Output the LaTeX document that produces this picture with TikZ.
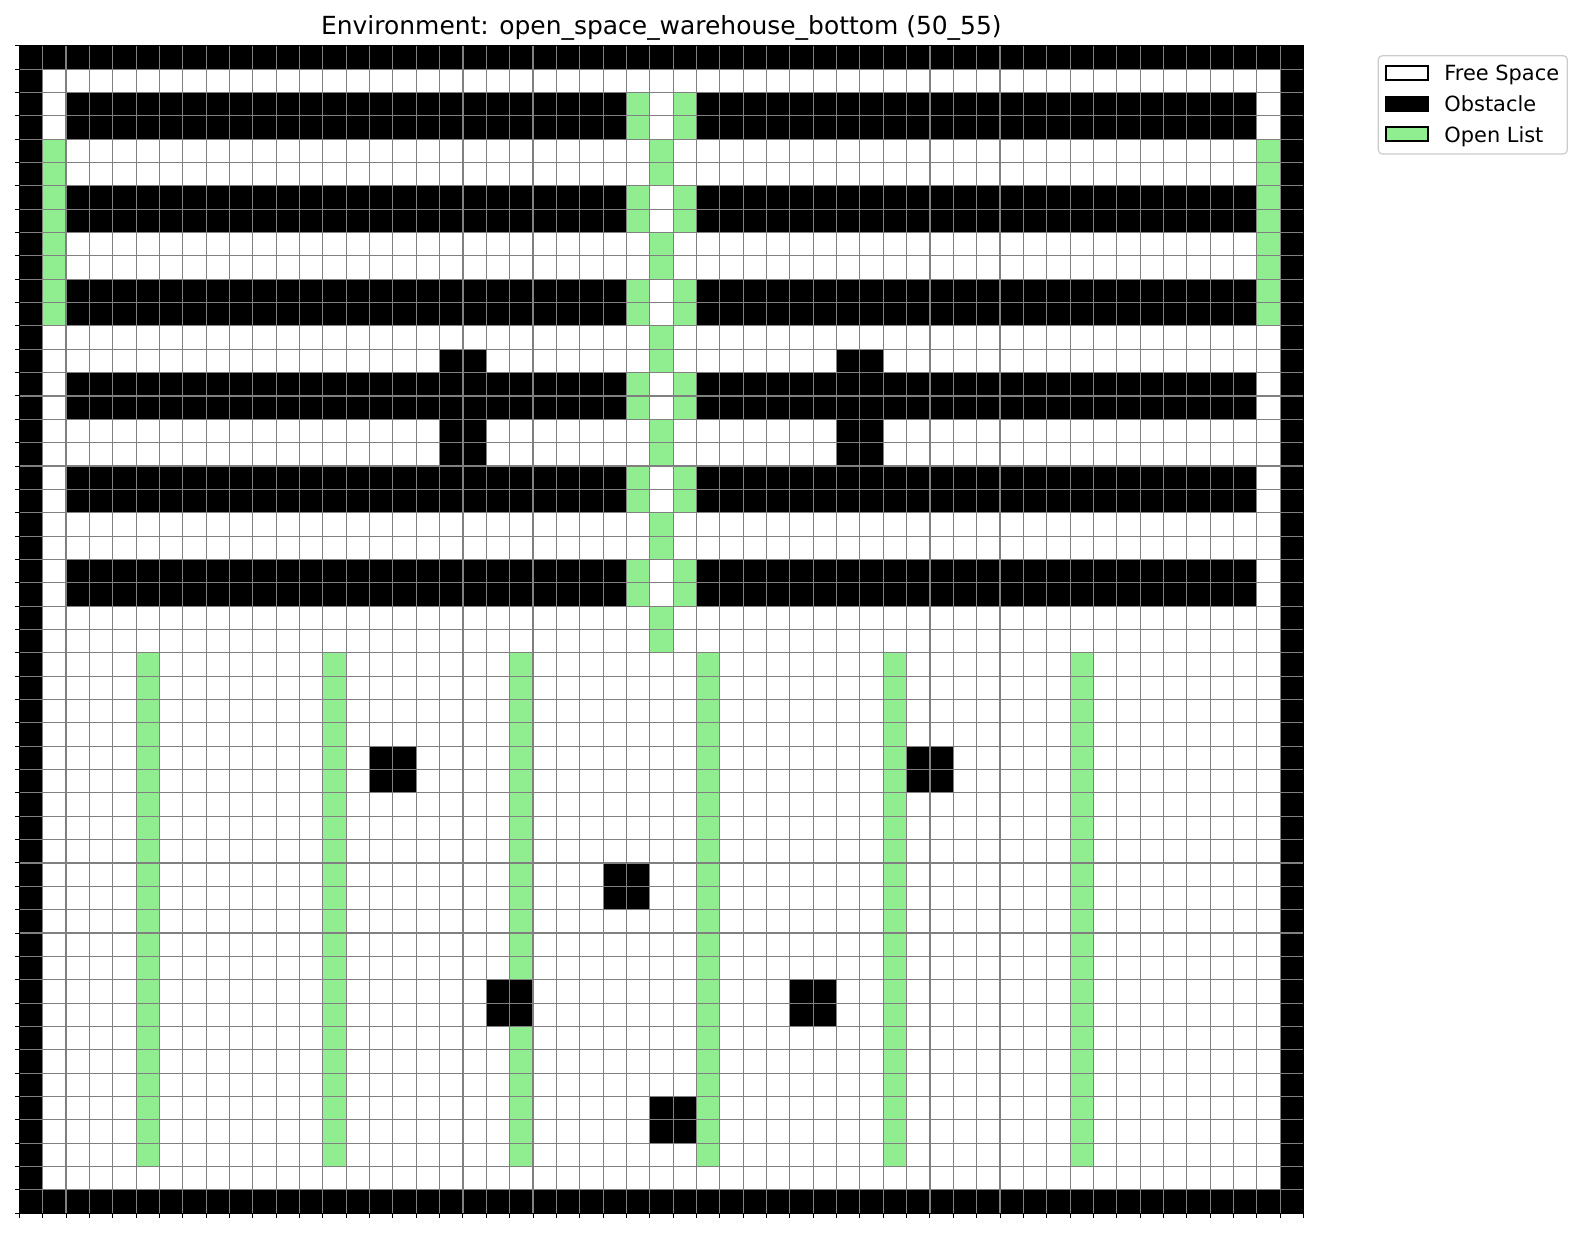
\documentclass[tikz,border=0pt]{standalone}
\usepackage{fontspec}
\setmainfont{DejaVu Sans}
\definecolor{openlist}{HTML}{90EE90}
\definecolor{framegray}{HTML}{CCCCCC}
\tikzset{gridline/.style={draw=gray,line width=0.55pt},
  axistick/.style={draw=black,line width=0.5pt},
  legendpatch/.style={draw=black,line width=1pt,minimum width=20.8pt,minimum height=7pt,inner sep=0pt},
  legendtext/.style={anchor=base west,inner sep=0pt,font=\fontsize{10.45}{12}\selectfont}}
\newcommand{\obstacleblock}[4]{\fill[black] (#1,#2) rectangle (#3+1,#4+1)}
\newcommand{\openblock}[4]{\fill[openlist] (#1,#2) rectangle (#3+1,#4+1)}

\begin{document}
\begin{tikzpicture}[x=0.5pt,y=-0.5pt]
  \useasboundingbox (0,0) rectangle (1582,1232);
  \fill[white] (0,0) rectangle (1582,1232);

  \node[inner sep=0pt,anchor=base,font=\fontsize{12.47}{14}\selectfont] (title) at (661.4,34)
    {Environment: open\_space\_warehouse\_bottom (50\_55)};

  \begin{scope}[shift={(19.3,45.7)},x=11.675pt,y=-11.675pt]
    \obstacleblock{0}{0}{54}{0};
    \obstacleblock{0}{49}{54}{49};
    \obstacleblock{0}{0}{0}{49};
    \obstacleblock{54}{0}{54}{49};

    \foreach \row in {2,6,10,14,18,22} {
      \obstacleblock{2}{\row}{25}{\row+1};
      \obstacleblock{29}{\row}{52}{\row+1};
      \openblock{26}{\row}{26}{\row+1};
      \openblock{28}{\row}{28}{\row+1};
      \openblock{27}{\row+2}{27}{\row+3};
    }
    \openblock{1}{4}{1}{11};
    \openblock{53}{4}{53}{11};

    \foreach \col in {18,35} {
      \obstacleblock{\col}{13}{\col+1}{13};
      \obstacleblock{\col}{16}{\col+1}{17};
    }

    \foreach \col in {5,13,29,37,45} {
      \openblock{\col}{26}{\col}{47};
    }
    \openblock{21}{26}{21}{39};
    \openblock{21}{42}{21}{47};

    \foreach \col/\row in {15/30,38/30,25/35,20/40,33/40,27/45} {
      \obstacleblock{\col}{\row}{\col+1}{\row+1};
    }

    \foreach \k in {0,...,55} {
      \draw[gridline] (\k,0) -- (\k,50);
      \draw[axistick] (\k,50) -- (\k,50.2);
    }
    \foreach \k in {0,...,50} {
      \draw[gridline] (0,\k) -- (55,\k);
      \draw[axistick] (0,\k) -- (-0.2,\k);
    }
    \draw[black,line width=0.65pt] (0,0) rectangle (55,50);
  \end{scope}

  \draw[framegray,line width=0.6pt,rounded corners=2pt,fill=white] (1378.3,55.7) rectangle (1567.3,154);
  \node[legendpatch,fill=white] (freepatch) at (1407.2,73) {};
  \node[legendpatch,fill=black] (obstaclepatch) at (1407.2,103.5) {};
  \node[legendpatch,fill=openlist] (openpatch) at (1407.2,134) {};
  \node[legendtext] (freelabel) at (1444,80) {Free Space};
  \node[legendtext] (obstaclelabel) at (1444,111.7) {Obstacle};
  \node[legendtext] (openlabel) at (1444,142) {Open List};
\end{tikzpicture}
\end{document}
